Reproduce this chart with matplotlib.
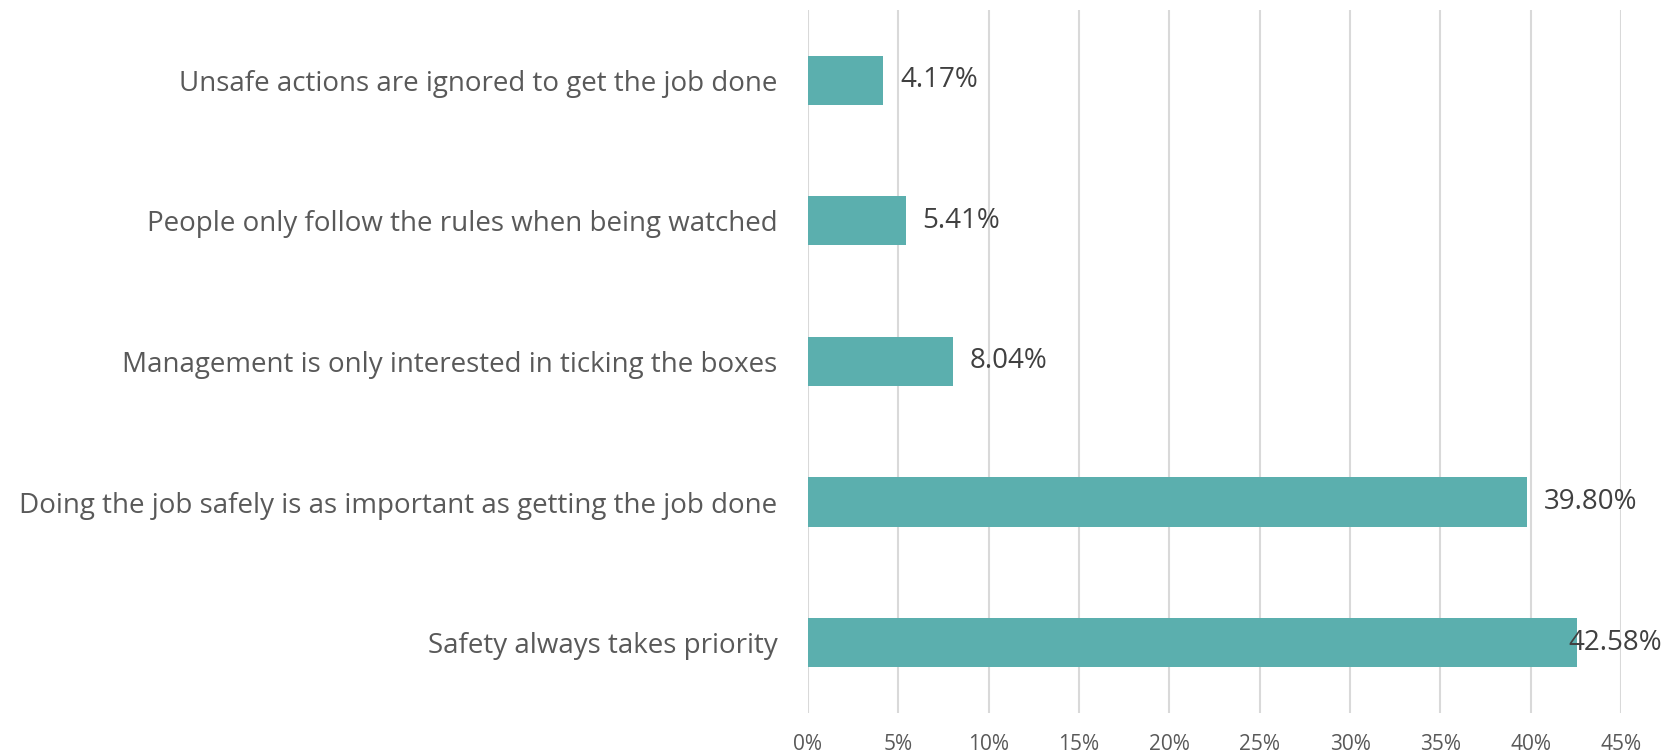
import matplotlib.pyplot as plt
from matplotlib.ticker import FuncFormatter

# données
categories = [
    "Safety always takes priority",
    "Doing the job safely is as important as getting the job done",
    "Management is only interested in ticking the boxes",
    "People only follow the rules when being watched",
    "Unsafe actions are ignored to get the job done",
]
values = [42.58, 39.80, 8.04, 5.41, 4.17]
xticks = [0, 5, 10, 15, 20, 25, 30, 35, 40, 45]

plt.rcParams['font.family'] = ['Open Sans', 'DejaVu Sans']

fig = plt.figure(figsize=(16.79, 7.54), dpi=100)
ax = fig.add_axes([0.4812, 0.0544, 0.4843, 0.9326])

ypos = list(range(len(categories)))
ax.barh(ypos, values, height=0.35, color='#5BAFAE', zorder=3)

# étiquettes de données
for i, v in enumerate(values):
    if v > 42:
        # Excel décale l'étiquette vers la gauche pour qu'elle tienne
        dx = -6.5
    else:
        dx = 12
    ax.annotate(f"{v:.2f}%", (v, i), xytext=(dx, 0), textcoords='offset points',
                va='center', ha='left', fontsize=20, color='#404040', zorder=4)

ax.set_xlim(0, 45)
ax.set_ylim(-0.5, 4.5)
ax.set_xticks(xticks)
ax.xaxis.set_major_formatter(FuncFormatter(lambda x, p: f"{x:.0f}%"))
ax.set_yticks(ypos)
ax.set_yticklabels(categories)

ax.grid(axis='x', color='#D9D9D9', linewidth=1.5, zorder=0)
for s in ax.spines.values():
    s.set_visible(False)
ax.tick_params(axis='y', length=0, pad=22, labelsize=20, labelcolor='#595959')
ax.tick_params(axis='x', length=0, pad=15, labelsize=15, labelcolor='#595959')

fig.savefig('out.png', dpi=100)
